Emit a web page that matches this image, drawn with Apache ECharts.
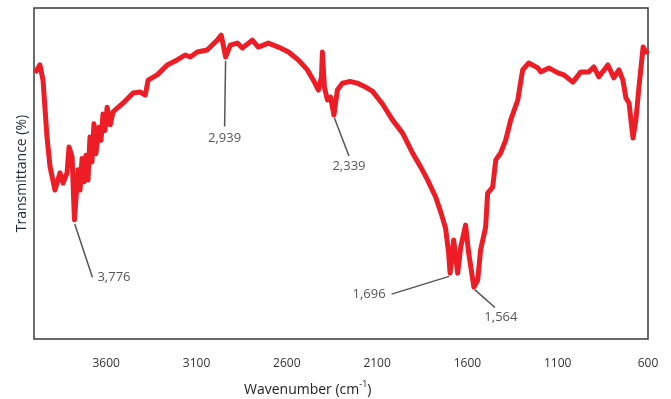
<!DOCTYPE html>
<html>
<head>
<meta charset="utf-8">
<title>FTIR spectrum</title>
<script src="https://cdn.jsdelivr.net/npm/echarts@6/dist/echarts.min.js"></script>
<style>
  html, body { margin: 0; padding: 0; background: #fff; }
  #chart { width: 671px; height: 399px; }
</style>
</head>
<body>
<div id="chart"></div>
<script>
// 光谱数据
const wavenumber = [
  3994, 3967, 3950, 3928, 3911, 3884, 3856, 3839, 3817, 3806, 3789, 3776,
  3756, 3745, 3734, 3723, 3712, 3701, 3690, 3679, 3668, 3657, 3640, 3629,
  3618, 3607, 3595, 3578, 3562, 3506, 3451, 3412, 3384, 3368, 3318, 3262,
  3207, 3163, 3135, 3096, 3041, 3013, 2985, 2963, 2939, 2913, 2874, 2846,
  2791, 2758, 2702, 2647, 2591, 2536, 2486, 2453, 2425, 2408, 2403, 2392,
  2375, 2358, 2339, 2320, 2292, 2250, 2210, 2170, 2125, 2070, 2015, 1959, 1904,
  1859, 1820, 1776, 1748, 1721, 1704, 1696, 1676, 1654, 1637, 1610, 1593,
  1564, 1543, 1527, 1499, 1488, 1460, 1443, 1416, 1388, 1360, 1321, 1294,
  1260, 1210, 1194, 1149, 1099, 1066, 1016, 972, 928, 900, 872, 822,
  789, 761, 739, 722, 705, 683, 667, 650, 627, 611, 600
];
const transmittance = [
  80.4, 82.8, 78.2, 61.0, 52.0, 45.0, 50.2, 47.1, 50.2, 58.0, 55.0, 36.0,
  51.1, 45.0, 54.5, 47.5, 55.5, 48.0, 61.0, 53.5, 65.0, 56.0, 64.0, 60.0,
  68.0, 63.0, 70.0, 64.7, 68.6, 71.3, 74.3, 74.6, 73.7, 78.2, 79.8, 82.8,
  84.3, 85.8, 85.2, 86.7, 87.3, 88.8, 90.3, 91.8, 85.2, 88.8, 89.4, 87.9,
  90.3, 88.2, 89.4, 88.2, 86.7, 84.3, 81.3, 78.2, 75.2, 79.2, 86.7, 76.1,
  72.2, 73.1, 67.7, 75.2, 77.3, 77.8, 77.3, 76.3, 74.8, 71.0, 66.2, 62.2, 56.2,
  52.0, 48.0, 42.9, 38.4, 33.5, 26.0, 19.9, 29.9, 19.9, 27.8, 34.4, 26.0,
  15.7, 17.8, 26.9, 33.8, 44.1, 45.9, 54.1, 56.2, 60.1, 66.2, 72.2, 81.3,
  83.4, 81.9, 80.7, 81.9, 80.4, 79.8, 77.6, 80.7, 80.7, 82.2, 79.2, 82.8,
  78.9, 81.3, 78.2, 72.8, 71.3, 60.7, 66.2, 76.1, 88.2, 86.7, 87.3
];

// 标注峰
const peakWavenumbers = [3776, 2939, 2339, 1696, 1564];
const peakValues = [35.0, 84.3, 67.1, 19.0, 15.1];
const peakLabels = ['3,776', '2,939', '2,339', '1,696', '1,564'];

// x 轴刻度
const xTickValues = [3600, 3100, 2600, 2100, 1600, 1100, 600];

// 标注文字偏移 (像素) 与留白, 留白用来让引线和文字之间空一点
const labelOffsets = [[37, 54], [-1, 78], [15, 49], [-78, 18], [21, 28]];
const labelPaddings = [[0, 0, 0, 5], [10, 0, 0, 0], [7, 0, 0, 0], [0, 6, 0, 0], [6, 0, 0, 12]];

const myChart = echarts.init(document.getElementById('chart'));

const option = {
  animation: false,
  backgroundColor: '#fff',
  title: {
    text: 'Wavenumber (cm{s|-1})',
    left: 244,
    top: 380,
    padding: 0,
    textStyle: {
      fontFamily: 'Open Sans',
      fontSize: 14,
      fontWeight: 'normal',
      color: '#222',
      lineHeight: 20,
      rich: {
        s: { fontFamily: 'Open Sans', fontSize: 9, color: '#222', verticalAlign: 'top', lineHeight: 12 }
      }
    }
  },
  grid: {
    left: 34,
    right: 23,
    top: 8,
    bottom: 60,
    show: true,
    borderColor: '#3a3a3a',
    borderWidth: 1.5,
    backgroundColor: '#fff'
  },
  xAxis: {
    type: 'value',
    inverse: true,
    min: 600,
    max: 4000,
    axisLine: { show: false },
    axisTick: { show: false },
    splitLine: { show: false },
    axisLabel: {
      customValues: xTickValues,
      formatter: v => String(v),
      margin: 19,
      fontFamily: 'Open Sans',
      fontSize: 12,
      color: '#333'
    }
  },
  yAxis: {
    type: 'value',
    min: 0,
    max: 100,
    name: 'Transmittance (%)',
    nameLocation: 'middle',
    nameGap: 5,
    nameTextStyle: {
      fontFamily: 'Open Sans',
      fontSize: 14,
      color: '#1f2637'
    },
    axisLine: { show: false },
    axisTick: { show: false },
    axisLabel: { show: false },
    splitLine: { show: false }
  },
  series: [
    {
      type: 'line',
      data: wavenumber.map((w, i) => [w, transmittance[i]]),
      showSymbol: false,
      lineStyle: { color: '#ee1c25', width: 5, join: 'round' },
      z: 2
    },
    {
      type: 'scatter',
      symbolSize: 2,
      itemStyle: { color: 'rgba(0,0,0,0)' },
      data: peakWavenumbers.map((w, i) => ({
        name: peakLabels[i],
        value: [w, peakValues[i]],
        label: { padding: labelPaddings[i] }
      })),
      label: {
        show: true,
        position: 'inside',
        formatter: '{b}',
        fontFamily: 'Open Sans',
        fontSize: 13,
        color: '#2b2b2b',
        backgroundColor: 'rgba(255,255,255,0)'
      },
      labelLayout: params => ({
        dx: labelOffsets[params.dataIndex][0],
        dy: labelOffsets[params.dataIndex][1]
      }),
      labelLine: {
        show: true,
        lineStyle: { color: '#555', width: 1.5 }
      },
      z: 3
    }
  ]
};

myChart.setOption(option);
</script>
</body>
</html>
